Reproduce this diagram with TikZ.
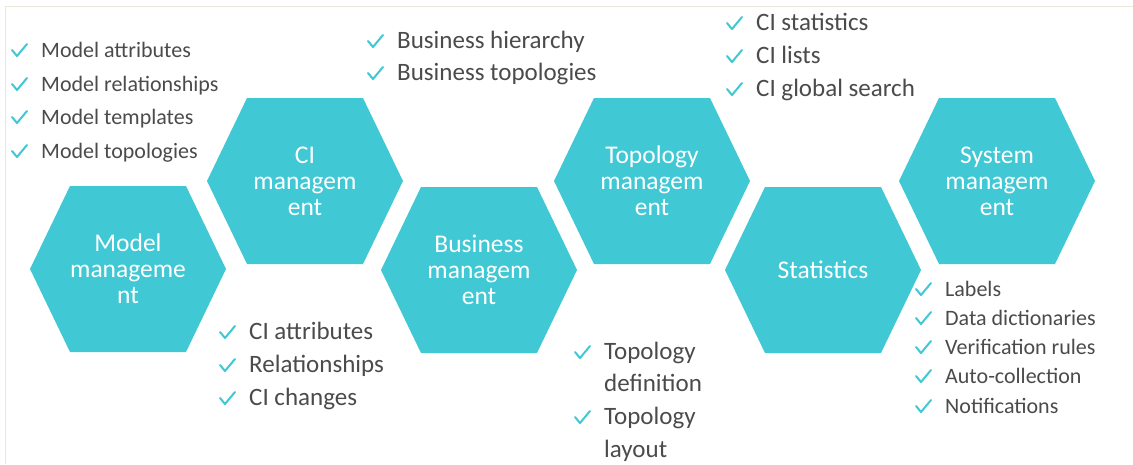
\documentclass[tikz,border=0pt]{standalone}
\usepackage{fontspec}
\setmainfont{Carlito}
\usetikzlibrary{calc}
\definecolor{hexc}{RGB}{64,200,212}
\definecolor{txt}{RGB}{75,75,75}
\definecolor{framec}{RGB}{236,231,219}
\newcommand\hexat[2]{\fill[hexc,shift={(#1,#2)}] (-98,0) -- (-58,-83) -- (58,-83) -- (98,0) -- (58,83) -- (-58,83) -- cycle;}
\newcommand\ck[1]{\draw[chkline] ($(#1.base west)+(-29,-7)$) -- ++(5,6) -- ++(10,-12);}
\begin{document}
\begin{tikzpicture}[x=1pt,y=-1pt,
 hextext/.style={text=white,font=\fontsize{25.5}{26}\selectfont,align=center,inner sep=0pt},
 item/.style={text=txt,font=\fontsize{22}{26}\selectfont,anchor=base west,inner sep=0pt},
 bigitem/.style={item,font=\fontsize{25}{26}\selectfont},
 chkline/.style={draw=hexc,line width=2pt,line cap=round,line join=round}]
\useasboundingbox (0,0) rectangle (1133,464);
\fill[white] (0,0) rectangle (1133,464);
\draw[framec,line width=1.5pt] (5.5,464) -- (5.5,6.5) -- (1133,6.5);

% hexagons
\hexat{128}{269}
\hexat{305}{181}
\hexat{479}{270}
\hexat{652}{181}
\hexat{823}{270}
\hexat{997}{181}

\node[hextext] (model) at (128,269) {Model\\manageme\\nt};
\node[hextext] (ci) at (305,181) {CI\\managem\\ent};
\node[hextext] (bus) at (479,270) {Business\\managem\\ent};
\node[hextext] (topo) at (652,181) {Topology\\managem\\ent};
\node[hextext] (stat) at (823,270) {Statistics};
\node[hextext] (sys) at (997,181) {System\\managem\\ent};

% model list
\node[item] (m1) at (41,57) {Model attributes};
\node[item] (m2) at (41,91) {Model relationships};
\node[item] (m3) at (41,124) {Model templates};
\node[item] (m4) at (41,158) {Model topologies};
\ck{m1}\ck{m2}\ck{m3}\ck{m4}

% business list
\node[bigitem] (b1) at (397,48) {Business hierarchy};
\node[bigitem] (b2) at (397,80) {Business topologies};
\ck{b1}\ck{b2}

% statistics list
\node[bigitem] (s1) at (756,30) {CI statistics};
\node[bigitem] (s2) at (756,63) {CI lists};
\node[bigitem] (s3) at (756,96) {CI global search};
\ck{s1}\ck{s2}\ck{s3}

% CI list
\node[bigitem] (c1) at (249,339) {CI attributes};
\node[bigitem] (c2) at (249,372) {Relationships};
\node[bigitem] (c3) at (249,405) {CI changes};
\ck{c1}\ck{c2}\ck{c3}

% topology list
\node[bigitem] (t1) at (604,359) {Topology};
\node[bigitem] (t2) at (604,391) {definition};
\node[bigitem] (t3) at (604,424) {Topology};
\node[bigitem] (t4) at (604,457) {layout};
\ck{t1}\ck{t3}

% system list
\node[item] (y1) at (945,296) {Labels};
\node[item] (y2) at (945,325) {Data dictionaries};
\node[item] (y3) at (945,354) {Verification rules};
\node[item] (y4) at (945,383) {Auto-collection};
\node[item] (y5) at (945,413) {Notifications};
\ck{y1}\ck{y2}\ck{y3}\ck{y4}\ck{y5}
\end{tikzpicture}
\end{document}
